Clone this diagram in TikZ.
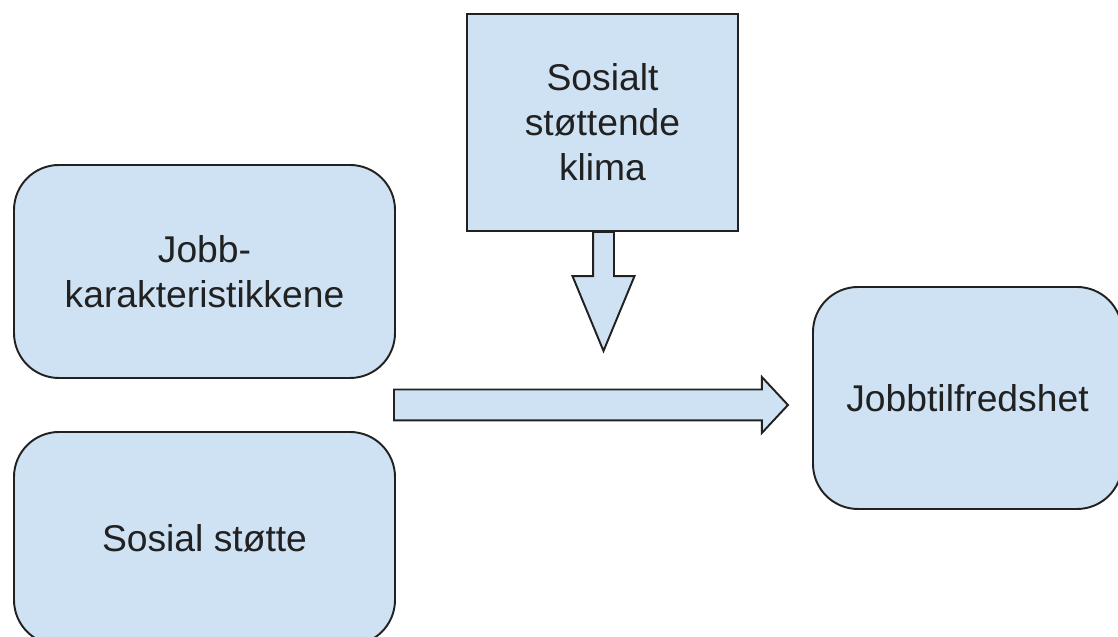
\documentclass[tikz,border=0pt]{standalone}
\usepackage{fontspec}
\setmainfont{Liberation Sans}
\usetikzlibrary{shapes.arrows,calc}
\definecolor{boksblaa}{HTML}{CFE2F3}
\definecolor{kant}{HTML}{212121}

\begin{document}
\begin{tikzpicture}[
  boks/.style={draw=kant, fill=boksblaa, line width=1.1pt, align=center, text=kant,
    font=\fontsize{21.2}{25.5}\selectfont},
  pil/.style={draw=kant, fill=boksblaa, line width=1.1pt, single arrow,
    inner xsep=0pt, outer sep=0pt, anchor=tail}
]
  \useasboundingbox (0,0) rectangle (22.36,12.74);
  \clip (0,0) rectangle (22.36,12.74);

  \node[boks, rounded corners=0.9cm, minimum width=7.62cm, minimum height=4.26cm] (jobbkar) at (4.09,7.31) {Jobb-\\karakteristikkene};
  \node[boks, rounded corners=0.9cm, minimum width=7.62cm, minimum height=4.26cm] (stotte) at (4.09,1.97) {Sosial støtte};
  \node[boks, rounded corners=0.9cm, minimum width=6.18cm, minimum height=4.44cm] (tilfreds) at (19.35,4.78) {Jobbtilfredshet};
  \node[boks, minimum width=5.42cm, minimum height=4.34cm] (klima) at (12.05,10.29) {Sosialt\\støttende\\klima};

  \node[pil, minimum height=7.88cm, minimum width=1.08cm, inner ysep=0.29cm,
    single arrow head extend=0.25cm, single arrow tip angle=94] (hovedpil)
    at ($(jobbkar.south east)!0.5!(stotte.north east)+(-0.04,0)$) {};
  \node[pil, rotate=-90, minimum height=2.38cm, minimum width=1.2cm, inner ysep=0.19cm,
    single arrow head extend=0.41cm, single arrow tip angle=45] (klimapil)
    at ($(klima.south)+(0.02,0)$) {};
\end{tikzpicture}
\end{document}
